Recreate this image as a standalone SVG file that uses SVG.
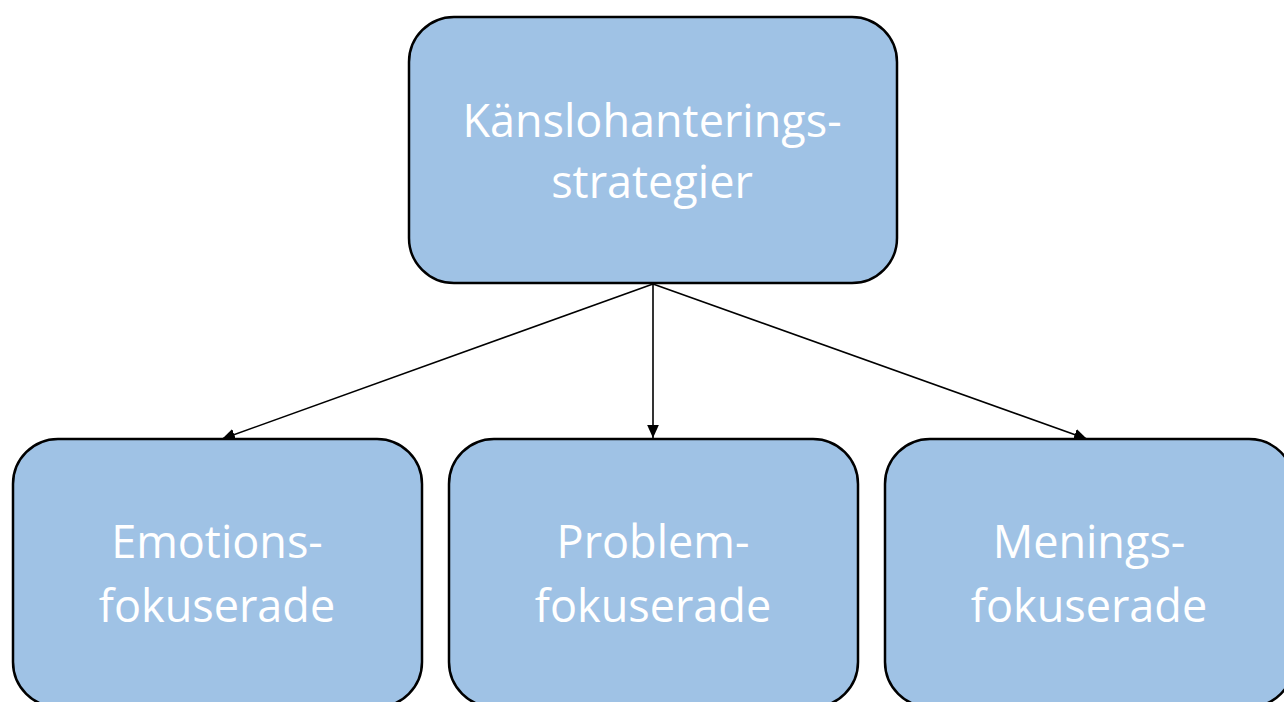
<svg xmlns="http://www.w3.org/2000/svg" width="1284" height="702" viewBox="0 0 1284 702">
<defs>
<style>
.box{fill:#9fc2e5;stroke:#000;stroke-width:2.5}
.lbl{fill:#fff;font-family:"Open Sans","Liberation Sans",sans-serif;font-size:45px;text-anchor:middle}
.conn{stroke:#000;stroke-width:1.6;fill:none}
</style>
<marker id="arr" markerWidth="13" markerHeight="13" refX="10" refY="5" orient="auto" markerUnits="userSpaceOnUse" viewBox="0 0 10 10">
<path d="M0,0.5 L10,5 L0,9.5 z" fill="#000"/>
</marker>
</defs>
<rect width="1284" height="702" fill="#fff"/>
<g id="connectors">
<line class="conn" x1="653" y1="284" x2="222" y2="439" marker-end="url(#arr)"/>
<line class="conn" x1="653" y1="284" x2="653" y2="438" marker-end="url(#arr)"/>
<line class="conn" x1="653" y1="284" x2="1087" y2="439" marker-end="url(#arr)"/>
</g>
<g id="top">
<rect class="box" x="409" y="17" width="488" height="266" rx="45" ry="45"/>
<text class="lbl" x="652" y="137">Känslohanterings-</text>
<text class="lbl" x="652" y="198">strategier</text>
</g>
<g id="emotion">
<rect class="box" x="13" y="439" width="409" height="268" rx="45" ry="45"/>
<text class="lbl" x="217" y="558">Emotions-</text>
<text class="lbl" x="217" y="622">fokuserade</text>
</g>
<g id="problem">
<rect class="box" x="449" y="439" width="409" height="268" rx="45" ry="45"/>
<text class="lbl" x="653" y="558">Problem-</text>
<text class="lbl" x="653" y="622">fokuserade</text>
</g>
<g id="menings">
<rect class="box" x="885" y="439" width="409" height="268" rx="45" ry="45"/>
<text class="lbl" x="1089" y="558">Menings-</text>
<text class="lbl" x="1089" y="622">fokuserade</text>
</g>
</svg>
